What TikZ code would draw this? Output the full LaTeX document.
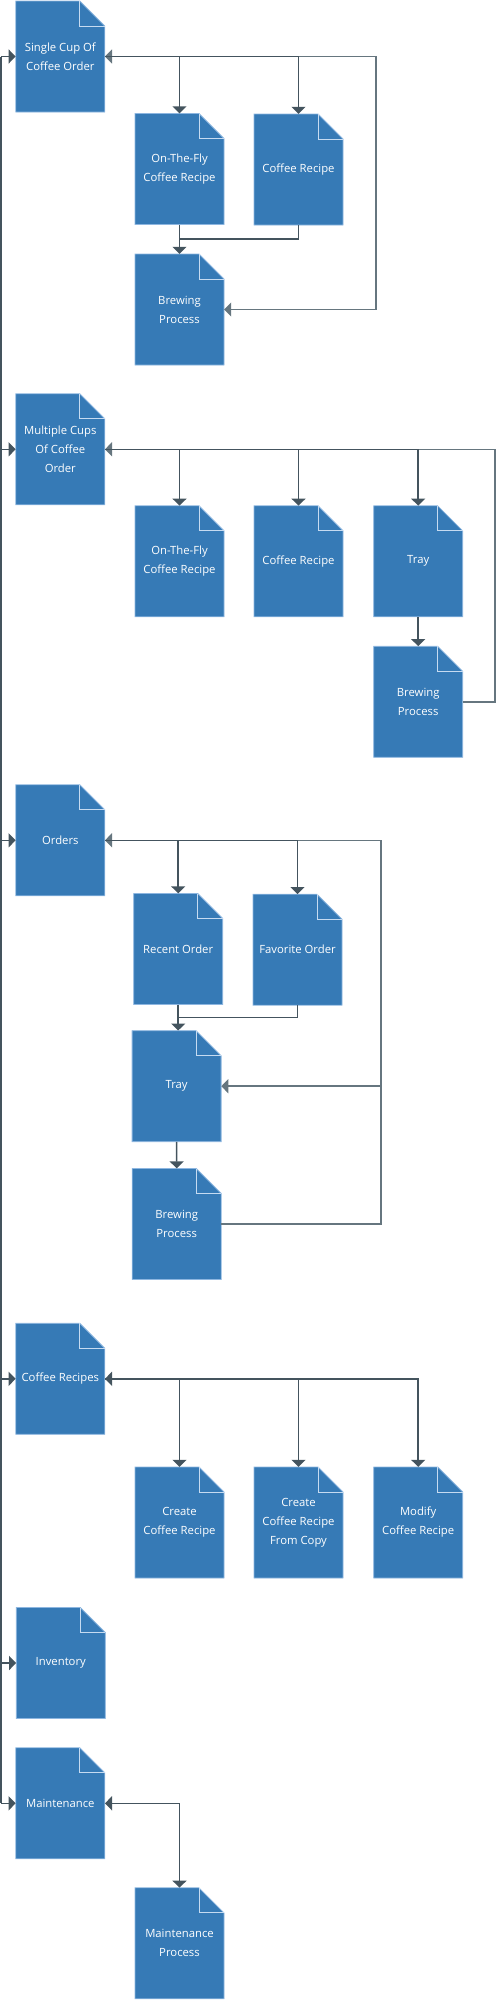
\documentclass[tikz,border=0pt]{standalone}
\usepackage{fontspec}
\setmainfont{Open Sans}
\usetikzlibrary{arrows.meta, calc}
\definecolor{docFill}{HTML}{367AB6}
\definecolor{docEdge}{HTML}{8DB6E0}
\definecolor{foldEdge}{HTML}{C6DBF1}
\definecolor{linkDark}{HTML}{44545E}
\definecolor{linkLight}{HTML}{66767F}

\begin{document}
\begin{tikzpicture}[x=1pt, y=-1pt, line join=miter]

\tikzset{
  docbody/.style={fill=docFill, draw=docEdge, line width=0.8pt},
  docfold/.style={draw=foldEdge, line width=0.8pt},
  docnode/.style={rectangle, minimum width=89pt, minimum height=111pt,
                  inner sep=0pt, text=white, align=center,
                  font=\fontsize{11.3}{19}\selectfont},
  link/.style={linkDark, line width=1.6pt},
  flow/.style={link, -{Triangle[width=14pt,length=7pt]}},
  dual/.style={link, {Triangle[width=14pt,length=7pt]}-{Triangle[width=14pt,length=7pt]}},
}

\useasboundingbox (0,0) rectangle (496,2000);

\def\halfW{44.5}
\def\halfH{55.5}
\def\fold{25}

\newcommand{\docbox}[3]{%
  \begin{scope}[shift={(#2)}]
    \filldraw[docbody] (-\halfW,-\halfH) -- (\halfW-\fold,-\halfH)
      -- (\halfW,-\halfH+\fold) -- (\halfW,\halfH) -- (-\halfW,\halfH) -- cycle;
    \draw[docfold] (\halfW-\fold,-\halfH) -- (\halfW-\fold,-\halfH+\fold)
      -- (\halfW,-\halfH+\fold);
  \end{scope}
  \node[docnode] (#1) at (#2) {#3};%
}

% single cup
\docbox{single}{60.3,56.5}{Single Cup Of\\Coffee Order}
\docbox{otfA}{179.5,169}{On-The-Fly\\Coffee Recipe}
\docbox{recipeA}{298.5,169.5}{Coffee Recipe}
\docbox{brewA}{179.5,309.5}{Brewing\\Process}

% multiple cups
\docbox{multi}{60.3,449.3}{Multiple Cups\\Of Coffee\\Order}
\docbox{otfB}{179.5,561.3}{On-The-Fly\\Coffee Recipe}
\docbox{recipeB}{298.5,561.3}{Coffee Recipe}
\docbox{trayB}{418.2,561.3}{Tray}
\docbox{brewB}{418.2,701.8}{Brewing\\Process}

% orders
\docbox{orders}{60.3,840.3}{Orders}
\docbox{recent}{178.2,949}{Recent Order}
\docbox{favorite}{297.5,949.7}{Favorite Order}
\docbox{trayC}{176.6,1086.2}{Tray}
\docbox{brewC}{176.7,1224}{Brewing\\Process}

% coffee recipes
\docbox{recipes}{60.3,1378.8}{Coffee Recipes}
\docbox{create}{179.5,1522.5}{Create\\Coffee Recipe}
\docbox{copy}{298.5,1522.5}{Create\\Coffee Recipe\\From Copy}
\docbox{modify}{418.2,1522.5}{Modify\\Coffee Recipe}

% inventory, maintenance
\docbox{inventory}{60.8,1663}{Inventory}
\docbox{maint}{60.3,1803.3}{Maintenance}
\docbox{maintproc}{179.5,1943.3}{Maintenance\\Process}

\coordinate (trunk) at (1,56.5);
\coordinate (edgeA) at (376,0);
\coordinate (edgeB) at (495,0);
\coordinate (edgeC) at (380.7,0);

% trunk on the left
\draw[link] (trunk) -- (trunk |- maint.west);
\foreach \n in {single,multi,orders,recipes,inventory,maint}
  \draw[flow] (trunk |- \n.west) -- (\n.west);

% loops back
\draw[dual, linkLight] (single.east) -| (edgeA |- brewA.east) -- (brewA.east);
\draw[flow, linkLight] (brewB.east) -| (edgeB |- multi.east) -- (multi.east);
\draw[flow, linkLight] (brewC.east) -| (edgeC |- orders.east) -- (orders.east);
\draw[flow, linkLight] (edgeC |- trayC.east) -- (trayC.east);

% single cup
\foreach \n in {otfA,recipeA}
  \draw[flow] (single.east) -| (\n.north);
\draw[flow] (otfA.south) -- (brewA.north);
\draw[link] (recipeA.south) |- ($(otfA.south)!.5!(brewA.north)$);

% multiple cups
\foreach \n in {otfB,recipeB,trayB}
  \draw[flow] (multi.east) -| (\n.north);
\draw[flow] (trayB.south) -- (brewB.north);

% orders
\foreach \n in {recent,favorite}
  \draw[flow] (orders.east) -| (\n.north);
\draw[flow] (recent.south) -- (recent.south |- trayC.north);
\draw[link] (favorite.south) |- ($(recent.south)!.5!(recent.south |- trayC.north)$);
\draw[flow] (trayC.south) -- (brewC.north);

% coffee recipes
\draw[dual] (recipes.east) -| (modify.north);
\foreach \n in {create,copy}
  \draw[flow] (recipes.east) -| (\n.north);

% maintenance
\draw[dual] (maint.east) -| (maintproc.north);

\end{tikzpicture}
\end{document}
